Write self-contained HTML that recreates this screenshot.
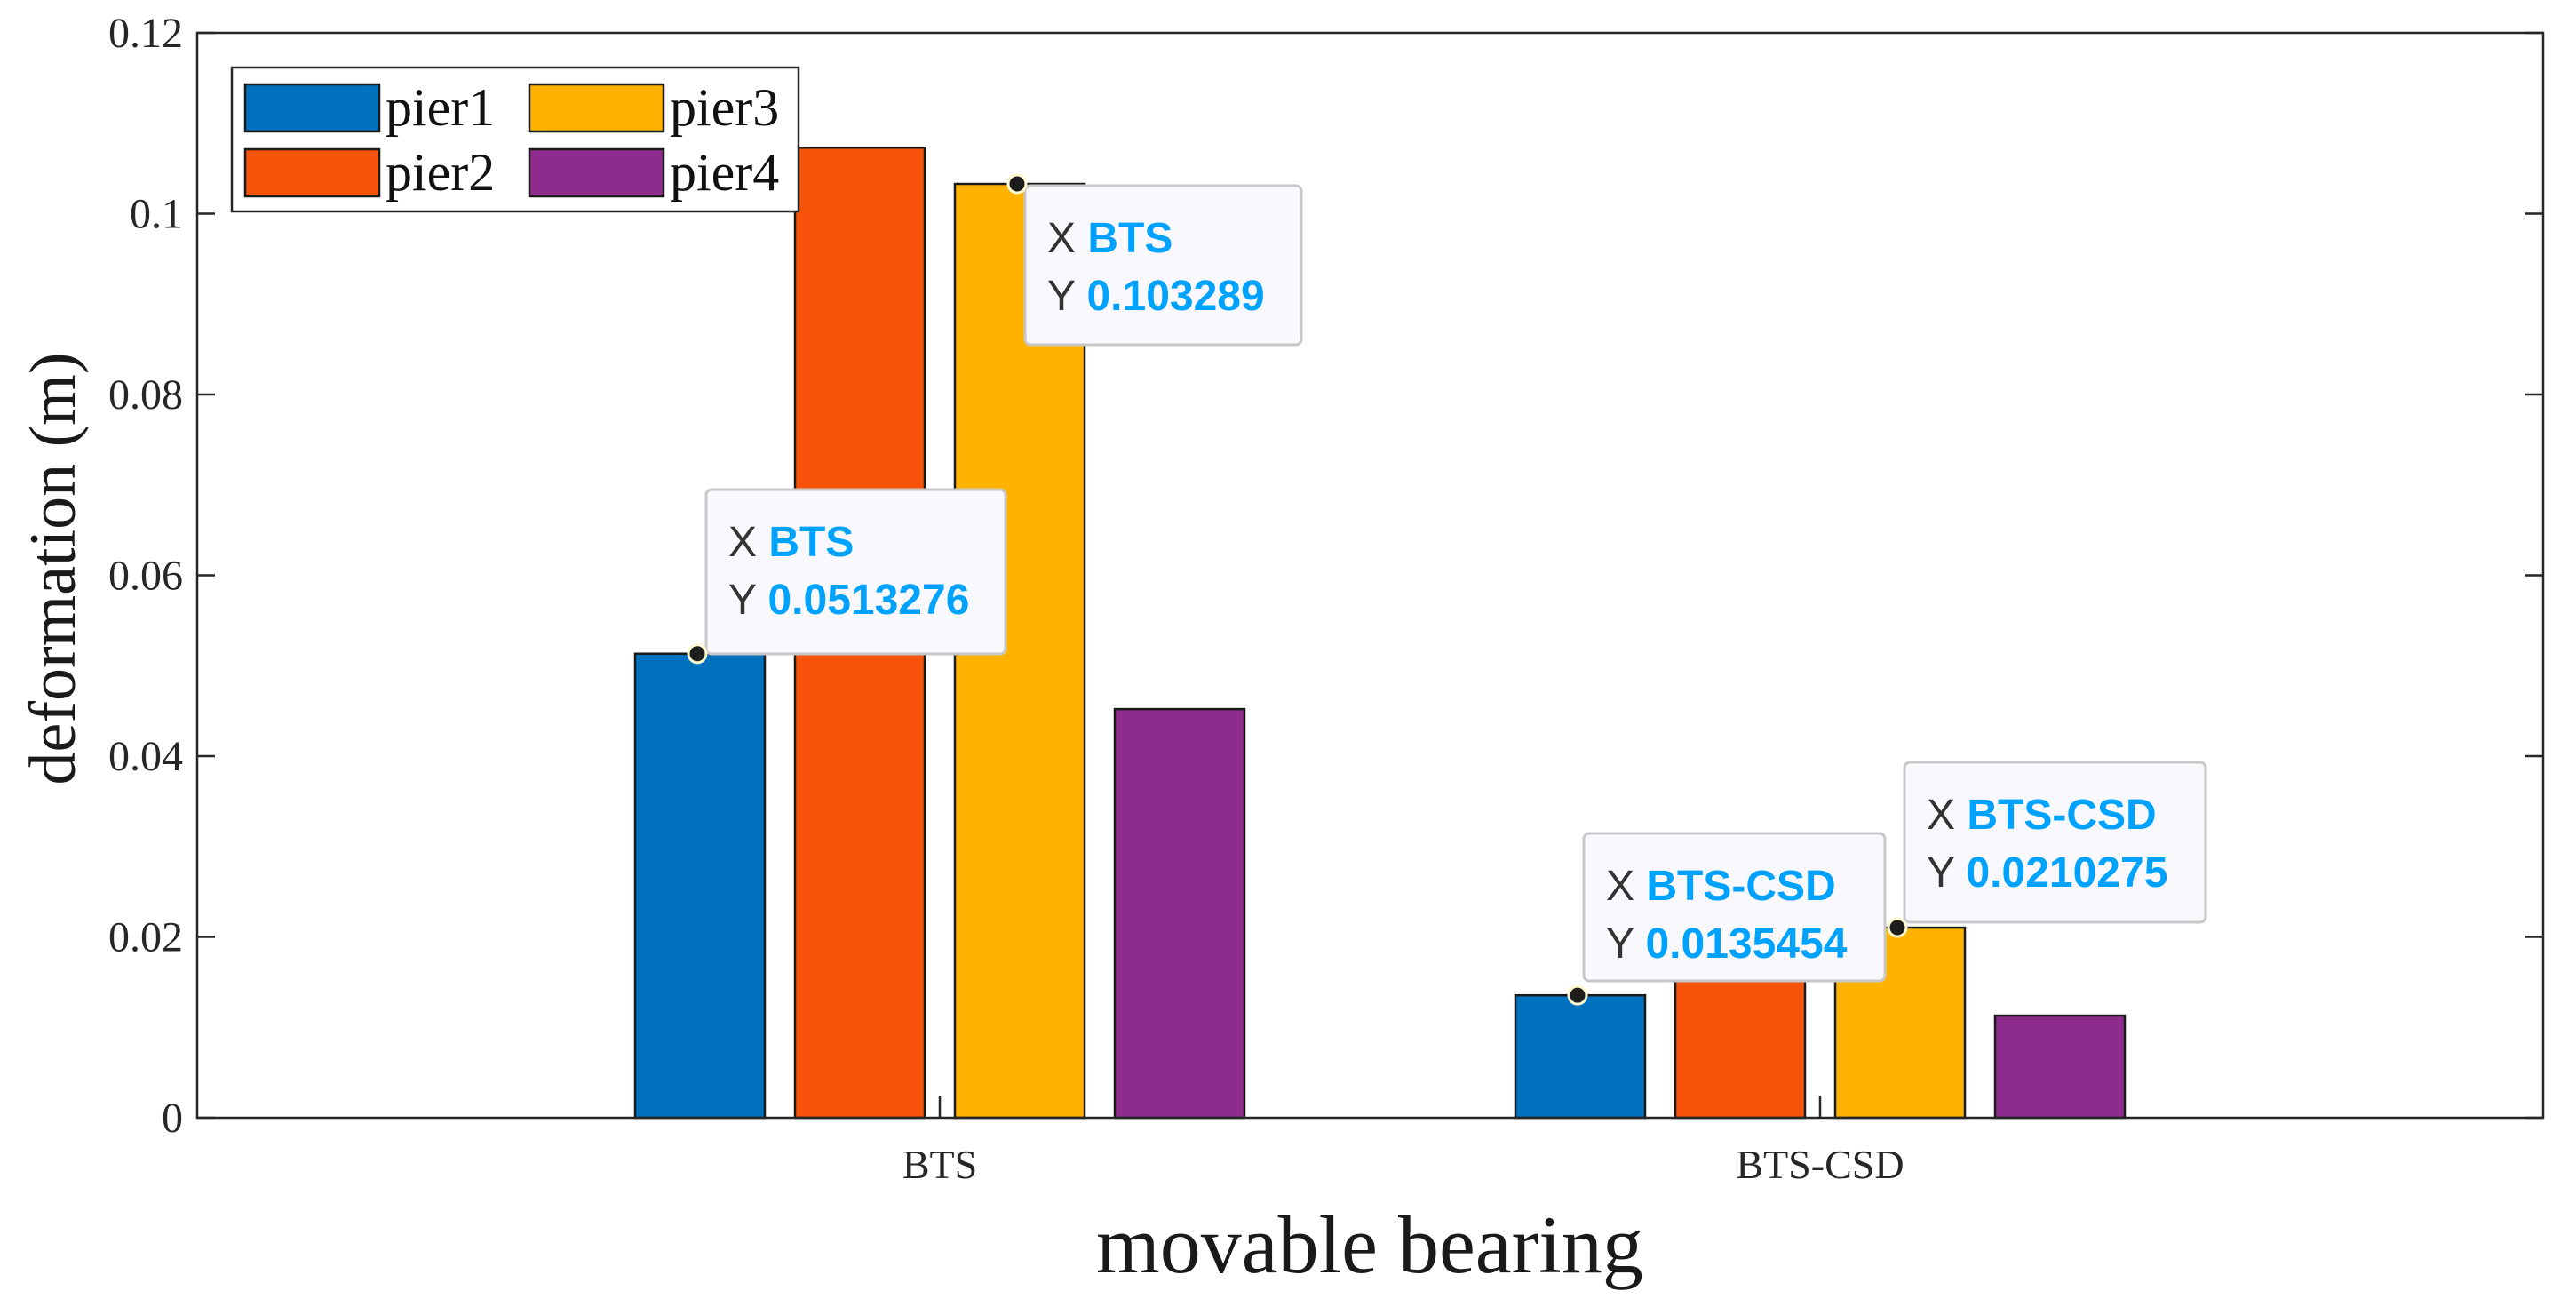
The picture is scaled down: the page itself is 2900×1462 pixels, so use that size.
<!DOCTYPE html>
<html><head><meta charset="utf-8"><style>
html,body{margin:0;padding:0;background:#fff;}
svg{display:block;}
</style></head><body>
<svg id="chart" width="2900" height="1462" viewBox="0 0 2900 1462" xmlns="http://www.w3.org/2000/svg">
<rect x="222" y="37" width="2641" height="1221" fill="#fff"/>
<g id="bars"></g>
<g id="axes"></g>
<g id="tips"></g>
<g id="legend"></g>
</svg>
<script>
const categories = ["BTS", "BTS-CSD"];
const seriesNames = ["pier1", "pier2", "pier3", "pier4"];
const pier1 = [0.0513276, 0.0135454];
const pier2 = [0.1073, 0.0166];
const pier3 = [0.103289, 0.0210275];
const pier4 = [0.0452, 0.0113];
const yTicks = [0, 0.02, 0.04, 0.06, 0.08, 0.1, 0.12];
const yTickLabels = ["0", "0.02", "0.04", "0.06", "0.08", "0.1", "0.12"];
const tipSeries = [0, 2, 0, 2];
const tipCats = [0, 0, 1, 1];
const tipLabels = ["0.0513276", "0.103289", "0.0135454", "0.0210275"];

const colors = ["#0072bd", "#f8530a", "#ffb300", "#8e2c8e"];
const series = [pier1, pier2, pier3, pier4];
const NS = "http://www.w3.org/2000/svg";
const L = 222, R = 2863, T = 37, B = 1258;
function y(v){ return B - (v / 0.12) * (B - T); }
function xc(i){ return 1058 + i * 991; }
const barOff = [-270, -90, 90, 270], barW = 146;
function mk(tag, attrs, parent){ const e = document.createElementNS(NS, tag); for (const k in attrs) e.setAttribute(k, attrs[k]); parent.appendChild(e); return e; }

const gb = document.getElementById("bars");
series.forEach((s, si) => {
  s.forEach((v, ci) => {
    const r = mk("rect", {x: xc(ci) + barOff[si] - barW/2, y: y(v), width: barW, height: B - y(v), fill: colors[si], stroke: "#1a1a1a", "stroke-width": 2.5}, gb);
    
    
  });
});

const ga = document.getElementById("axes");
const box = mk("rect", {x: L, y: T, width: R - L, height: B - T, fill: "none", stroke: "#262626", "stroke-width": 2.5}, ga);


yTicks.forEach((t, i) => {
  const yy = y(t);
  mk("line", {x1: L, x2: L + 20, y1: yy, y2: yy, stroke: "#262626", "stroke-width": 2.5}, ga);
  mk("line", {x1: R, x2: R - 20, y1: yy, y2: yy, stroke: "#262626", "stroke-width": 2.5}, ga);
  const tx = mk("text", {x: 206, y: yy + 16, "text-anchor": "end", "font-family": "Liberation Serif, serif", "font-size": 48, fill: "#262626"}, ga);
  tx.textContent = yTickLabels[i];
  
  
});
categories.forEach((c, i) => {
  mk("line", {x1: xc(i), x2: xc(i), y1: B, y2: B - 25, stroke: "#262626", "stroke-width": 2.5}, ga);
  const tx = mk("text", {x: xc(i), y: 1326, "text-anchor": "middle", "font-family": "Liberation Serif, serif", "font-size": 46, fill: "#262626"}, ga);
  tx.textContent = c;
  
  
});
const xt = mk("text", {x: 1542, y: 1432, "text-anchor": "middle", "font-family": "Liberation Serif, serif", "font-size": 92, fill: "#1a1a1a"}, ga);
xt.textContent = "movable bearing";


const yt = mk("text", {x: 0, y: 0, transform: "translate(84,640) rotate(-90)", "text-anchor": "middle", "font-family": "Liberation Serif, serif", "font-size": 74, fill: "#1a1a1a"}, ga);
yt.textContent = "deformation (m)";



const gt = document.getElementById("tips");
const tipBoxes = [[795, 551, 337, 185], [1154, 209, 311, 179], [1783, 938, 339, 166], [2144, 858, 339, 180]];
tipSeries.forEach((si, k) => {
  const ci = tipCats[k];
  const g = mk("g", {}, gt);
  
  
  const b = tipBoxes[k];
  mk("rect", {x: b[0], y: b[1], width: b[2], height: b[3], rx: 6, fill: "#f9f9fd", stroke: "#c8c8c8", "stroke-width": 3}, g);
  const px = xc(ci) + barOff[si] - barW/2 + 70, py = y(series[si][ci]);
  mk("circle", {cx: px, cy: py, r: 10, fill: "#1e1e1e", stroke: "#fffbd0", "stroke-width": 3}, g);
  const t1 = mk("text", {x: b[0] + 25, y: b[1] + 75, "font-family": "Liberation Sans, sans-serif", "font-size": 48, fill: "#333", "textLength": 0}, g);
  t1.removeAttribute("textLength");
  t1.innerHTML = 'X <tspan font-weight="bold" fill="#00a2ff">' + categories[ci] + '</tspan>';
  const t2 = mk("text", {x: b[0] + 25, y: b[1] + 140, "font-family": "Liberation Sans, sans-serif", "font-size": 48, fill: "#333"}, g);
  t2.innerHTML = 'Y <tspan font-weight="bold" fill="#00a2ff">' + tipLabels[k] + '</tspan>';
});

const gl = document.getElementById("legend");
mk("rect", {x: 261, y: 76, width: 638, height: 162, fill: "#fff", stroke: "#262626", "stroke-width": 2.5}, gl);
const lx = [276, 596], ly = [95, 168];
seriesNames.forEach((n, i) => {
  const col = Math.floor(i / 2), row = i % 2;
  const e = mk("g", {}, gl);
  
  
  mk("rect", {x: lx[col], y: ly[row], width: 151, height: 53, fill: colors[i], stroke: "#1a1a1a", "stroke-width": 2.5}, e);
  const t = mk("text", {x: lx[col] + 158, y: ly[row] + 46, "font-family": "Liberation Serif, serif", "font-size": 60, fill: "#111"}, e);
  t.textContent = n;
});
</script>
</body></html>
